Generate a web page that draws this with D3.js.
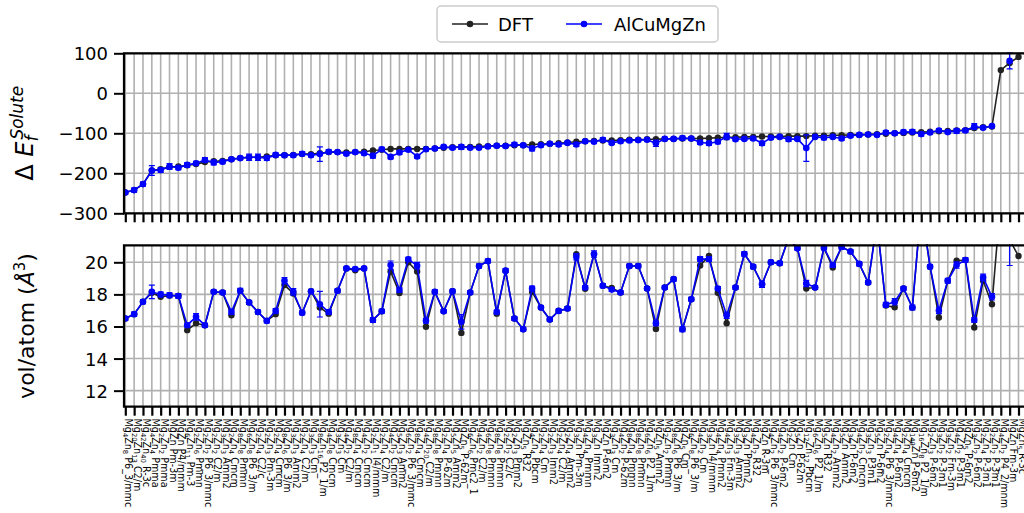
<!DOCTYPE html>
<html>
<head>
<meta charset="utf-8">
<script src="https://cdn.jsdelivr.net/npm/d3@7"></script>
<style>
body { margin: 0; background: #fff; }
svg { display: block; font-family: "DejaVu Sans", sans-serif; }
</style>
</head>
<body>
<svg id="chart" width="1024" height="513"></svg>
<script>
// structure labels (formula + space group)
const labels = [
    'Mg4Zn8 P6_3/mmc', 'Mg20Zn13 C2/m', 'Mg42Zn40 R-3c', 'Mg4Zn4 Pmma', 'Mg2Zn2 Pmma',
    'MgZn Pm-3m', 'MgZn P4/mmm', 'Mg6Zn11 Pm-3', 'Mg2Zn6 Pmmn', 'Mg2Zn2 P6_3/mmc',
    'Mg2Zn2 C2/m', 'Mg3Zn3 Amm2', 'Mg2Zn4 Cmcm', 'Mg8Zn8 Pmmn', 'Mg6Zn8 P6_3/m',
    'Mg2Zn4 C2/c', 'Mg2Zn3 Pm-3m', 'Mg2Zn4 Cmcm', 'Mg8Zn6 P6_3/m', 'Mg3Zn3 Amm2',
    'Mg2Zn4 C2/m', 'Mg3Zn3 Cm', 'Mg8Zn16 P2_1/m', 'Mg4Zn8 Cmcm', 'Mg3Zn3 Cm',
    'Mg4Zn2 C2/m', 'Mg8Zn4 Cmcm', 'Mg4Zn2 Cmcm', 'Mg2Zn1 I4/mmm', 'Mg2Zn4 C2/m',
    'Mg4Zn2 Cmcm', 'Mg5Zn3 Amm2', 'Mg6Zn2 P6_3/mmc', 'Mg8Zn4 Cmcm', 'Mg4Zn20 C2/m',
    'Mg8Zn8 Pmmn', 'Mg2Zn4 P-62m', 'Mg5Zn5 Amm2', 'MgZn5 P-62m', 'Mg6Zn6 Pmc2_1',
    'Mg4Zn2 C2/m', 'Mg6Zn8 Pmmn', 'Mg8Zn8 Pmmn', 'Mg2Zn2 C2/c', 'Mg2Zn3 Pmm2',
    'MgZn5 R32', 'Mg4Zn4 Pbcm', 'Mg2Zn4 Cm', 'Mg2Zn3 Imm2', 'Mg2Zn4 C2/m',
    'Mg2Zn4 Amm2', 'Mg3Zn Pm-3m', 'Mg4Zn4 Pmmn', 'Mg3Zn Imm2', 'MgZn P-6m2',
    'Mg3Zn3 Cm', 'Mg4Zn2 P-62m', 'Mg8Zn4 Pmmn', 'Mg8Zn8 Pmmn', 'Mg6Zn6 P2_1/m',
    'MgZn5 Amm2', 'Mg2Zn2 Pmmn', 'Mg8Zn6 P6_3/m', 'MgZn5 Cm', 'Mg6Zn8 P6_3/m',
    'Mg4Zn2 Cm', 'Mg3Zn I4/mmm', 'Mg4Zn4 Pmm2', 'Mg4Zn3 Fm-3m', 'Mg3Zn3 Amm2',
    'Mg3Zn Pmm2', 'Mg4Zn2 R32', 'MgZn R-3m', 'Mg4Zn2 P6_3/mmc', 'Mg4Zn2 P-6m2',
    'Mg2Zn Cm', 'Mg5Zn P-62m', 'Mg12Zn12 Pbcm', 'Mg6Zn6 P2_1/m', 'Mg5Zn R32',
    'Mg4Zn2 Amm2', 'Mg5Zn Amm2', 'Mg3Zn P-6m2', 'Mg4Zn2 Cmcm', 'Mg3Zn3 P3m1',
    'Mg5Zn P-6m2', 'Mg2Zn4 P6_3/mmc', 'Mg4Zn4 P-6m2', 'Mg2Zn4 Cmcm', 'Mg149Zn P-6m2',
    'Mg16Zn8 P2_1/m', 'Mg2Zn3 P-6m2', 'Mg3Zn2 P-3m1', 'Mg3Zn2 Fm-3m', 'Mg4Zn2 P-3m1',
    'MgZn5 P-6m2', 'Mg3Zn2 P-6m2', 'Mg2Zn4 P-3m1', 'Mg2Zn2 P-3m1', 'Mg4Zn2 P4_2/mnm',
    'MgZn Fm-3m', 'MgZn5 R-3c'
];

// solute formation energy
const dftE = [
    -248, -242, -227, -193, -190, -184, -183, -180, -177, -172,
    -170, -169, -165, -162, -160, -160, -158, -155, -155, -154,
    -152, -152, -150, -147, -147, -148, -147, -146, -143, -141,
    -139, -139, -139, -139, -139, -138, -136, -135, -134, -134,
    -133, -132, -131, -131, -130, -130, -128, -127, -126, -125,
    -123, -121, -120, -119, -118, -118, -117, -116, -116, -115,
    -115, -114, -114, -113, -113, -113, -112, -111, -110, -110,
    -109, -109, -108, -108, -108, -107, -107, -107, -106, -106,
    -105, -105, -104, -104, -103, -102, -101, -100, -99, -98,
    -97, -96, -95, -94, -93, -92, -87, -85, -83, 58,
    76, 91
];
const fitE = [
    -248, -242, -227, -193, -192, -183, -186, -179, -175, -167,
    -173, -171, -165, -162, -160, -160, -162, -154, -155, -155,
    -151, -155, -152, -146, -147, -151, -147, -150, -156, -140,
    -159, -148, -141, -158, -140, -138, -134, -136, -134, -136,
    -136, -133, -131, -132, -128, -130, -138, -130, -126, -128,
    -124, -128, -120, -121, -116, -124, -120, -118, -117, -116,
    -125, -114, -114, -112, -113, -123, -125, -121, -108, -115,
    -114, -113, -125, -111, -109, -115, -114, -137, -109, -111,
    -109, -113, -106, -104, -103, -104, -98, -100, -97, -96,
    -102, -98, -93, -97, -94, -93, -83, -86, -82, null,
    81, null
];
const fitEErr = [
    4, 5, 5, 12, 6, 7, 5, 6, 5, 6,
    6, 5, 4, 4, 8, 8, 6, 5, 4, 4,
    5, 4, 18, 5, 4, 4, 4, 4, 6, 5,
    5, 5, 4, 5, 4, 4, 4, 4, 6, 4,
    4, 4, 4, 4, 5, 4, 6, 4, 4, 5,
    4, 5, 4, 4, 5, 4, 4, 4, 4, 4,
    8, 4, 4, 5, 4, 5, 5, 5, 8, 4,
    4, 4, 5, 4, 4, 5, 4, 33, 4, 5,
    4, 5, 4, 4, 4, 4, 5, 4, 5, 5,
    5, 4, 4, 4, 6, 5, 7, 4, 4, null,
    20, null
];

// volume per atom
const dftV = [
    16.5, 16.77, 17.54, 18.1, 17.85, 17.93, 17.9, 15.77, 16.2, 16.08,
    18.16, 18.12, 16.7, 18.22, 17.5, 16.9, 16.35, 16.77, 18.58, 18.06,
    16.85, 18.2, 17.18, 16.8, 18.23, 19.62, 19.5, 19.62, 16.4, 16.95,
    19.43, 18.08, 20.0, 19.42, 15.98, 18.16, 16.95, 18.2, 15.6, 18.12,
    19.77, 20.08, 16.8, 19.48, 16.5, 15.83, 18.16, 17.18, 16.43, 16.97,
    17.12, 20.5, 18.35, 20.52, 18.54, 18.4, 18.12, 19.77, 19.77, 18.37,
    15.85, 18.43, 18.95, 15.83, 17.7, 19.8, 20.4, 18.1, 16.2, 18.43,
    20.52, 19.73, 18.64, 20.0, 19.94, 21.5, 20.87, 18.37, 18.43, 20.9,
    19.68, 20.96, 20.67, 19.9, 18.74, 22.5, 17.3, 17.2, 18.37, 17.18,
    23.5, 19.73, 16.56, 18.85, 20.1, 20.14, 15.94, 18.85, 17.39, 24,
    21.4, 20.39
];
const fitV = [
    16.5, 16.77, 17.54, 18.16, 18.0, 17.95, 17.9, 16.08, 16.6, 16.08,
    18.16, 18.12, 16.91, 18.22, 17.5, 16.9, 16.35, 16.97, 18.85, 18.16,
    16.85, 18.2, 17.39, 16.9, 18.23, 19.62, 19.58, 19.62, 16.4, 16.95,
    19.83, 18.27, 20.19, 19.79, 16.35, 18.16, 16.95, 18.2, 16.29, 18.12,
    19.77, 20.08, 16.9, 19.48, 16.5, 15.83, 18.37, 17.18, 16.43, 16.97,
    17.12, 20.35, 18.43, 20.52, 18.54, 18.3, 18.12, 19.77, 19.77, 18.37,
    16.2, 18.43, 18.95, 15.83, 17.7, 20.2, 20.2, 18.37, 16.7, 18.43,
    20.52, 19.73, 18.64, 20.0, 19.94, 21.5, 20.87, 18.68, 18.43, 20.9,
    19.83, 20.96, 20.67, 19.9, 18.74, 22.5, 17.35, 17.54, 18.37, 17.18,
    23.5, 19.73, 17.0, 18.85, 19.83, 20.14, 16.4, 19.06, 17.85, null,
    21.6, null
];
const fitVErr = [
    0.12, 0.12, 0.12, 0.42, 0.15, 0.15, 0.15, 0.12, 0.2, 0.12,
    0.1, 0.12, 0.15, 0.15, 0.12, 0.12, 0.12, 0.15, 0.2, 0.2,
    0.12, 0.1, 0.8, 0.15, 0.12, 0.1, 0.1, 0.1, 0.15, 0.12,
    0.25, 0.15, 0.12, 0.2, 0.15, 0.12, 0.1, 0.12, 0.45, 0.12,
    0.12, 0.12, 0.12, 0.12, 0.12, 0.12, 0.15, 0.12, 0.12, 0.12,
    0.12, 0.2, 0.12, 0.2, 0.12, 0.12, 0.12, 0.12, 0.12, 0.12,
    0.15, 0.12, 0.12, 0.15, 0.12, 0.15, 0.15, 0.12, 0.2, 0.12,
    0.15, 0.12, 0.2, 0.12, 0.12, 0.15, 0.12, 0.2, 0.12, 0.12,
    0.12, 0.15, 0.12, 0.12, 0.12, 0.15, 0.15, 0.2, 0.12, 0.15,
    0.15, 0.12, 0.2, 0.15, 0.2, 0.15, 0.15, 0.2, 0.2, null,
    1.8, null
];

const eTicks = [100, 0, -100, -200, -300];
const vTicks = [20, 18, 16, 14, 12];
const seriesNames = ['DFT', 'AlCuMgZn'];

const svg = d3.select('#chart');
const left = 124, right = 1034;
const gridColor = '#b0b0b0';
const blue = '#0000ff', black = '#222';

const x = d3.scaleLinear()
    .domain([0, labels.length - 1])
    .range([125.3, 1018.5]);

const panels = [
    {
        id: 'e', top: 53.3, bottom: 213.3, domain: [-300, 100], ticks: eTicks,
        dft: dftE, fit: fitE, err: fitEErr
    },
    {
        id: 'v', top: 245.3, bottom: 406.7, domain: [11, 21.06], ticks: vTicks,
        dft: dftV, fit: fitV, err: fitVErr
    }
];

panels.forEach(p => {
    const y = d3.scaleLinear().domain(p.domain).range([p.bottom, p.top]);
    const g = svg.append('g');

    svg.append('clipPath').attr('id', `clip-${p.id}`)
        .append('rect')
        .attr('x', left).attr('y', p.top - 1)
        .attr('width', right - left).attr('height', p.bottom - p.top + 2);

    // grid
    g.append('g').selectAll('line')
        .data(d3.range(labels.length))
        .enter().append('line')
        .attr('x1', d => x(d)).attr('x2', d => x(d))
        .attr('y1', p.top).attr('y2', p.bottom)
        .attr('stroke', gridColor).attr('stroke-width', 1.6);
    g.append('g').selectAll('line')
        .data(p.ticks)
        .enter().append('line')
        .attr('x1', left).attr('x2', right)
        .attr('y1', d => y(d)).attr('y2', d => y(d))
        .attr('stroke', gridColor).attr('stroke-width', 1.6);

    const plot = g.append('g').attr('clip-path', `url(#clip-${p.id})`);
    const line = d3.line()
        .defined(d => d[1] != null)
        .x(d => x(d[0])).y(d => y(d[1]));

    // DFT series
    const dftPts = p.dft.map((v, i) => [i, v]);
    plot.append('path')
        .attr('d', line(dftPts))
        .attr('fill', 'none').attr('stroke', black).attr('stroke-width', 1.6);
    plot.append('g').selectAll('circle')
        .data(dftPts)
        .enter().append('circle')
        .attr('cx', d => x(d[0])).attr('cy', d => y(d[1]))
        .attr('r', 3.2).attr('fill', black);

    // potential series with error bars
    const fitPts = p.fit.map((v, i) => [i, v, p.err[i]]);
    const okPts = fitPts.filter(d => d[1] != null);
    plot.append('path')
        .attr('d', line(fitPts))
        .attr('fill', 'none').attr('stroke', blue).attr('stroke-width', 1.6);
    const eb = plot.append('g').attr('stroke', blue).attr('stroke-width', 1.2);
    eb.selectAll('.bar')
        .data(okPts)
        .enter().append('line')
        .attr('x1', d => x(d[0])).attr('x2', d => x(d[0]))
        .attr('y1', d => y(d[1] - d[2])).attr('y2', d => y(d[1] + d[2]));
    [-1, 1].forEach(s => {
        eb.selectAll(null)
            .data(okPts)
            .enter().append('line')
            .attr('x1', d => x(d[0]) - 3).attr('x2', d => x(d[0]) + 3)
            .attr('y1', d => y(d[1] + s * d[2])).attr('y2', d => y(d[1] + s * d[2]));
    });
    plot.append('g').selectAll('circle')
        .data(okPts)
        .enter().append('circle')
        .attr('cx', d => x(d[0])).attr('cy', d => y(d[1]))
        .attr('r', 3.3).attr('fill', blue);

    // axes
    const yAxis = g.append('g')
        .attr('transform', `translate(${left},0)`)
        .call(d3.axisLeft(y).tickValues(p.ticks).tickSize(10).tickSizeOuter(0).tickPadding(6));
    yAxis.select('.domain').remove();
    yAxis.selectAll('line').attr('stroke', '#000').attr('stroke-width', 2);
    yAxis.selectAll('text')
        .attr('font-family', 'DejaVu Sans').attr('font-size', 18)
        .attr('fill', '#000').attr('dy', '0.36em');

    const xAxis = g.append('g')
        .attr('transform', `translate(0,${p.bottom})`)
        .call(d3.axisBottom(x).tickValues(d3.range(labels.length)).tickSize(9).tickSizeOuter(0).tickFormat(() => ''));
    xAxis.select('.domain').remove();
    xAxis.selectAll('line').attr('stroke', '#000').attr('stroke-width', 2.2);

    // frame
    g.append('path')
        .attr('d', `M${right},${p.top}H${left}V${p.bottom}H${right}`)
        .attr('fill', 'none').attr('stroke', '#000').attr('stroke-width', 2.2);
});

// rotated structure labels with subscripts
const lab = svg.append('g').attr('font-size', 9.6).attr('fill', '#000');
labels.forEach((name, i) => {
    const [formula, group] = name.split(' ');
    const t = lab.append('text')
        .attr('transform', `translate(${x(i)},418.5) rotate(90)`)
        .attr('dy', '0.46em');
    let shift = 0;
    formula.match(/[A-Z][a-z]*|\d+/g).forEach(part => {
        const isSub = /\d/.test(part);
        const want = isSub ? 2 : 0;
        const ts = t.append('tspan').attr('dy', want - shift).text(part);
        if (isSub) ts.attr('font-size', 6.8);
        shift = want;
    });
    t.append('tspan').attr('dy', -shift).text('\u00a0' + group);
});

// y labels
const ylab1 = svg.append('text')
    .attr('transform', `translate(33,${(53.3 + 213.3) / 2}) rotate(-90)`)
    .attr('text-anchor', 'middle').attr('font-size', 24).attr('fill', '#000');
ylab1.append('tspan').text('Δ ');
ylab1.append('tspan').attr('font-style', 'italic').text('E');
ylab1.append('tspan').attr('font-style', 'italic').attr('font-size', 17).attr('dy', 5).text('f');
ylab1.append('tspan').attr('font-style', 'italic').attr('font-size', 17).attr('dx', -4).attr('dy', -15).text('Solute');

const ylab2 = svg.append('text')
    .attr('transform', `translate(34,${(245.3 + 406.7) / 2}) rotate(-90)`)
    .attr('text-anchor', 'middle').attr('font-size', 22).attr('fill', '#000');
ylab2.append('tspan').text('vol/atom (');
ylab2.append('tspan').attr('font-style', 'italic').text('Å');
ylab2.append('tspan').attr('font-size', 15).attr('dy', -9).text('3');
ylab2.append('tspan').attr('dy', 9).text(')');

// legend
const leg = svg.append('g');
leg.append('rect')
    .attr('x', 437).attr('y', 6).attr('width', 281).attr('height', 36).attr('rx', 4)
    .attr('fill', '#fff').attr('stroke', '#ccc').attr('stroke-width', 1.5);
const legItems = [
    { name: seriesNames[0], color: black, x0: 452, tx: 498 },
    { name: seriesNames[1], color: blue, x0: 566, tx: 614 }
];
legItems.forEach(d => {
    leg.append('line')
        .attr('x1', d.x0).attr('x2', d.x0 + 36).attr('y1', 24).attr('y2', 24)
        .attr('stroke', d.color).attr('stroke-width', 1.6);
    leg.append('circle').attr('cx', d.x0 + 18).attr('cy', 24).attr('r', 3.3).attr('fill', d.color);
    leg.append('text').attr('x', d.tx).attr('y', 30.5).attr('font-size', 18).attr('fill', '#000').text(d.name);
});
</script>
</body>
</html>
